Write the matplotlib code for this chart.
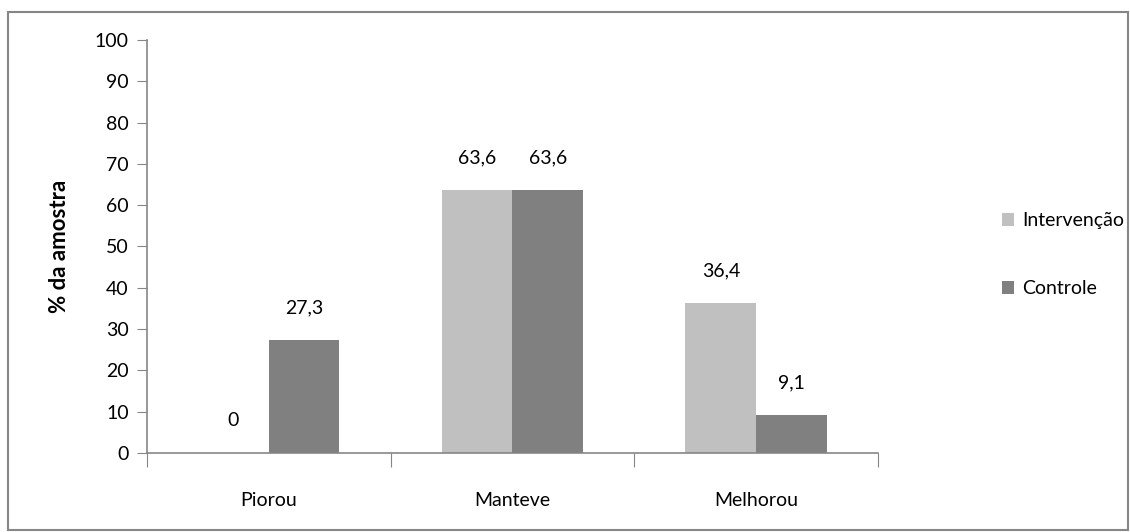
import matplotlib.pyplot as plt
from matplotlib.patches import Rectangle
import numpy as np

categories = ["Piorou", "Manteve", "Melhorou"]
intervencao = [0, 63.6, 36.4]
controle = [27.3, 63.6, 9.1]
series_names = ["Intervenção", "Controle"]
y_ticks = list(range(0, 101, 10))

plt.rcParams["font.family"] = ["Lato", "DejaVu Sans"]

fig = plt.figure(figsize=(11.3, 5.32), dpi=100)
ax = fig.add_axes([0.130, 0.1485, 0.647, 0.7765])

# outer chart border
fig.patches.append(Rectangle((0.007, 0.004), 0.991, 0.973, transform=fig.transFigure,
                             fill=False, edgecolor="#868686", linewidth=1.5))

x = np.arange(len(categories))
width = 0.29
b1 = ax.bar(x - width / 2, intervencao, width, color="#C0C0C0", label=series_names[0])
b2 = ax.bar(x + width / 2, controle, width, color="#808080", label=series_names[1])

for bars, vals in [(b1, intervencao), (b2, controle)]:
    for rect, v in zip(bars, vals):
        ax.annotate(f"{v:g}".replace(".", ","),
                    (rect.get_x() + rect.get_width() / 2, v),
                    xytext=(0, 17), textcoords="offset points",
                    ha="center", va="bottom", fontsize=14)

ax.set_xlim(-0.5, len(categories) - 0.5)
ax.set_ylim(0, 100)
ax.set_yticks(y_ticks)
ax.tick_params(axis="y", labelsize=14, length=7, color="#868686", pad=6)

# category ticks between groups, labels centred
ax.set_xticks(np.arange(-0.5, len(categories)), minor=False)
ax.set_xticklabels([])
ax.set_xticks(x, minor=True)
ax.set_xticklabels(categories, minor=True)
ax.tick_params(axis="x", which="major", length=10, color="#868686")
ax.tick_params(axis="x", which="minor", length=0, labelsize=14, pad=28)

for side in ["top", "right"]:
    ax.spines[side].set_visible(False)
for side in ["left", "bottom"]:
    ax.spines[side].set_color("#868686")
    ax.spines[side].set_linewidth(1.2)

ax.set_ylabel("% da amostra", fontsize=16, fontweight="bold", labelpad=18)

ax.legend(loc="center left", bbox_to_anchor=(1.145, 0.48), frameon=False,
          fontsize=14, handlelength=0.65, handleheight=0.65, labelspacing=2.6,
          handletextpad=0.4)

fig.savefig("out.png", dpi=100)
